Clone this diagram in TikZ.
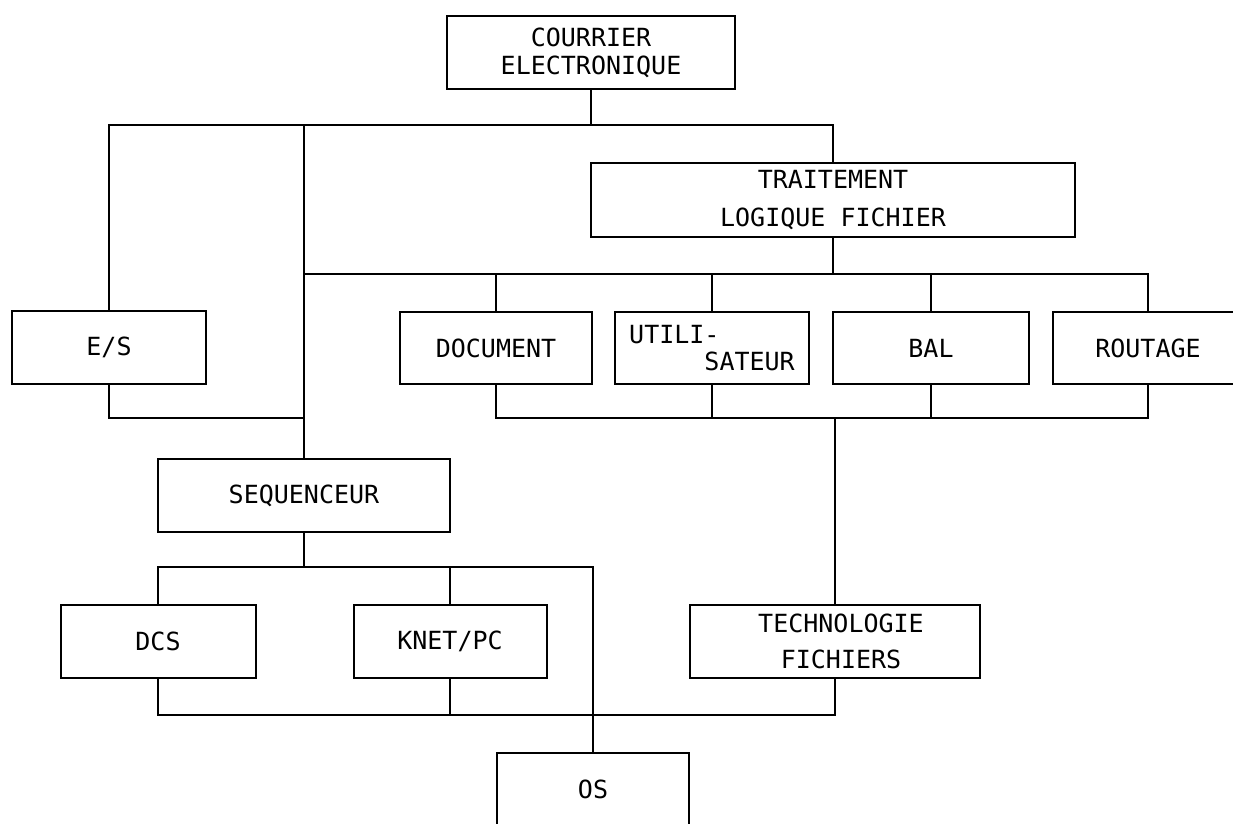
\documentclass[tikz,border=0pt]{standalone}
\usepackage{fontspec}
\newfontfamily\plotfont{DejaVu Sans Mono}
\begin{document}
\begin{tikzpicture}[x=1pt,y=-1pt,
  every node/.style={inner sep=0pt, font=\plotfont\fontsize{25}{28}\selectfont},
  box/.style={draw, line width=2pt, rectangle, minimum height=73pt, align=center},
  conn/.style={line width=2pt}]
\useasboundingbox (0,0) rectangle (1233,823);
\fill[white] (0,0) rectangle (1233,823);
\begin{scope}
\clip (0,0) rectangle (1233,823);
% boxes
\node[box, minimum width=288pt] (cour) at (591,52.5) {COURRIER\\ELECTRONIQUE};
\node[box, minimum width=194pt] (es) at (109,347.5) {E/S};
\node[box, minimum width=484pt, minimum height=74pt] (trait) at (833,200) {TRAITEMENT\\[10pt]LOGIQUE FICHIER};
\node[box, minimum width=192pt, minimum height=72pt] (doc) at (496,348) {DOCUMENT};
\node[box, minimum width=194pt, minimum height=72pt, align=left] (util) at (712,348) {UTILI-\\[-1pt]\phantom{UTILI}SATEUR};
\node[box, minimum width=196pt, minimum height=72pt] (bal) at (931,348) {BAL};
\node[box, minimum width=190pt, minimum height=72pt] (rout) at (1148,348) {ROUTAGE};
\node[box, minimum width=292pt] (seq) at (304,495.5) {SEQUENCEUR};
\node[box, minimum width=195pt] (dcs) at (158,641.5) {DCS};
\node[box, minimum width=193pt] (knet) at (450,641.5) {KNET/PC};
\node[box, minimum width=290pt] (tech) at (835,641.5) {\hspace*{12pt}TECHNOLOGIE\\[8pt]\hspace*{12pt}FICHIERS};
\node[box, minimum width=192pt] (os) at (593,789.5) {OS};
% bus coordinates
\coordinate (b1) at (0,125);
\coordinate (b2) at (0,274);
\coordinate (b3) at (0,418);
\coordinate (b4) at (0,567);
\coordinate (b5) at (0,715);
% top level
\draw[conn] (cour.south) -- (cour.south |- b1);
\draw[conn] (es.north) -- (es.north |- b1) -- (trait.north |- b1) -- (trait.north);
\draw[conn] (seq.north |- b1) -- (seq.north);
% traitement bus
\draw[conn] (trait.south) -- (trait.south |- b2);
\draw[conn] (seq.north |- b2) -- (rout.north |- b2) -- (rout.north);
\draw[conn] (doc.north |- b2) -- (doc.north);
\draw[conn] (util.north |- b2) -- (util.north);
\draw[conn] (bal.north |- b2) -- (bal.north);
% lower bus of row
\draw[conn] (es.south) -- (es.south |- b3) -- (seq.north |- b3);
\draw[conn] (doc.south) -- (doc.south |- b3) -- (rout.south |- b3) -- (rout.south);
\draw[conn] (util.south) -- (util.south |- b3);
\draw[conn] (bal.south) -- (bal.south |- b3);
\draw[conn] (tech.north |- b3) -- (tech.north);
% sequenceur bus
\draw[conn] (seq.south) -- (seq.south |- b4);
\draw[conn] (dcs.north) -- (dcs.north |- b4) -- (os.north |- b4) -- (os.north);
\draw[conn] (knet.north |- b4) -- (knet.north);
% bottom bus
\draw[conn] (dcs.south) -- (dcs.south |- b5) -- (tech.south |- b5) -- (tech.south);
\draw[conn] (knet.south) -- (knet.south |- b5);
\end{scope}
\end{tikzpicture}
\end{document}
